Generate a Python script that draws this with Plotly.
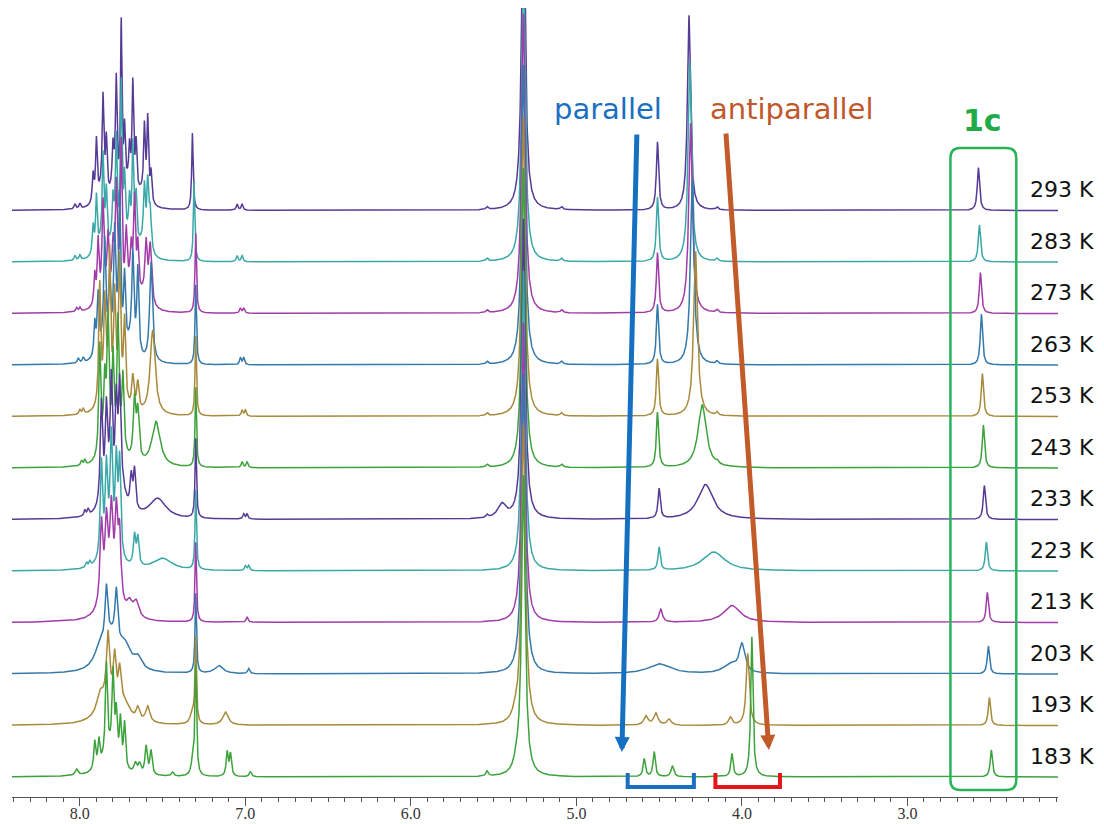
import numpy as np
import plotly.graph_objects as go

# ---------------- data ----------------
TEMPS = ["293 K", "283 K", "273 K", "263 K", "253 K", "243 K",
         "233 K", "223 K", "213 K", "203 K", "193 K", "183 K"]
COLORS = ["#553a96", "#3aa8a8", "#a23ca8", "#3479aa", "#a88a3c", "#3ca23c",
          "#553a96", "#3aa8a8", "#a23ca8", "#3479aa", "#a88a3c", "#3ca23c"]

# peak lists: (ppm, height, half-width ppm)
T293 = [(8.03,5,.006),(8.00,5,.006),(7.92,28,.006),(7.90,60,.006),(7.86,95,.006),(7.84,55,.006),
        (7.80,40,.006),(7.78,108,.006),(7.75,168,.005),(7.73,60,.006),(7.70,38,.006),(7.68,110,.006),
        (7.66,50,.006),(7.61,70,.006),(7.59,82,.006),(7.57,30,.006),(7.87,14,.03),(7.79,16,.03),
        (7.71,16,.03),(7.63,12,.03),(7.32,77,.005),(7.05,6,.006),(7.02,6,.006),(5.54,3,.008),
        (5.32,330,.013),(5.09,3,.008),(4.51,68,.008),(4.32,195,.011),(4.15,3,.008),(2.571,43,.008)]
T283 = [(8.03,5,.006),(8.00,5,.006),(7.92,28,.006),(7.90,55,.006),(7.86,88,.006),(7.84,55,.006),
        (7.80,40,.006),(7.78,100,.006),(7.75,160,.006),(7.73,60,.006),(7.70,38,.006),(7.68,100,.006),
        (7.66,50,.006),(7.61,60,.007),(7.59,65,.007),(7.575,40,.008),(7.87,14,.03),(7.79,16,.03),
        (7.71,16,.03),(7.63,12,.03),(7.31,80,.005),(7.05,6,.006),(7.02,6,.006),(5.54,3,.008),
        (5.32,300,.013),(5.09,3,.008),(4.51,64,.008),(4.315,200,.012),(4.15,3,.008),(2.565,37,.008)]
T273 = [(8.02,4,.006),(8.00,4,.006),(7.91,30,.006),(7.89,60,.006),(7.86,90,.007),(7.83,60,.007),
        (7.80,45,.007),(7.78,100,.007),(7.75,150,.006),(7.72,60,.007),(7.69,40,.007),(7.67,95,.007),
        (7.65,50,.007),(7.60,55,.008),(7.575,60,.01),(7.86,15,.03),(7.78,18,.03),(7.70,16,.03),
        (7.62,12,.03),(7.30,80,.005),(7.03,5,.006),(7.01,5,.006),(5.54,3,.008),(5.32,300,.013),
        (5.09,3,.008),(4.51,60,.008),(4.31,190,.013),(4.15,3,.008),(2.559,41,.008)]
T263 = [(8.01,5,.006),(7.98,5,.006),(7.91,33,.006),(7.89,60,.007),(7.85,100,.007),(7.82,65,.007),
        (7.79,110,.007),(7.76,140,.007),(7.73,70,.007),(7.68,90,.007),(7.65,85,.007),(7.57,100,.01),
        (7.85,18,.03),(7.77,20,.03),(7.69,18,.03),(7.30,80,.005),(7.03,7,.006),(7.01,7,.006),
        (5.54,3,.008),(5.32,300,.013),(5.09,3,.008),(4.51,60,.008),(4.30,185,.013),(4.15,3,.008),
        (2.553,51,.008)]
T253 = [(8.00,5,.006),(7.98,5,.006),(7.88,120,.007),(7.85,90,.007),(7.82,140,.007),(7.79,100,.007),
        (7.76,130,.007),(7.73,80,.007),(7.84,20,.03),(7.76,20,.03),(7.68,33,.008),(7.65,28,.008),
        (7.56,85,.018),(7.30,80,.005),(7.02,6,.006),(7.00,6,.006),(5.54,3,.008),(5.32,300,.013),
        (5.09,3,.008),(4.51,57,.008),(4.28,165,.014),(4.15,3,.008),(2.547,43,.008)]
T243 = [(7.99,5,.006),(7.97,5,.006),(7.88,110,.007),(7.85,60,.007),(7.83,120,.007),(7.80,90,.007),
        (7.77,120,.007),(7.74,70,.007),(7.84,22,.03),(7.76,22,.03),(7.67,60,.009),(7.65,48,.009),
        (7.54,45,.03),(7.30,80,.005),(7.02,6,.006),(6.99,6,.006),(5.54,3,.008),(5.32,300,.013),
        (5.09,3,.008),(4.51,55,.008),(4.24,63,.03),(4.15,3,.008),(2.541,43,.008)]
T233 = [(7.97,6,.006),(7.95,6,.006),(7.87,100,.008),(7.84,80,.008),(7.81,110,.008),(7.78,90,.008),
        (7.76,100,.008),(7.83,25,.035),(7.75,25,.03),(7.69,32,.008),(7.67,40,.008),(7.53,20,.06),
        (7.30,80,.005),(7.01,5,.006),(6.99,5,.006),(5.54,3,.008),(5.45,14,.03),(5.32,300,.013),
        (4.50,30,.008),(4.22,35,.055),(2.535,34,.008)]
T223 = [(7.96,5,.006),(7.94,5,.006),(7.87,95,.008),(7.84,80,.008),(7.81,105,.008),(7.78,90,.008),
        (7.76,95,.008),(7.82,25,.04),(7.67,30,.008),(7.65,28,.008),(7.50,12,.07),(7.30,80,.005),
        (7.00,5,.006),(6.98,5,.006),(5.32,300,.013),(4.50,23,.008),(4.17,19,.08),(2.523,29,.008)]
T213 = [(7.87,80,.01),(7.84,70,.01),(7.81,78,.01),(7.78,82,.01),(7.76,68,.01),(7.82,30,.05),
        (7.70,13,.02),(7.66,16,.02),(7.30,80,.005),(6.99,5,.007),(5.32,300,.013),(4.49,13,.012),
        (4.06,17,.06),(2.517,30,.008)]
T203 = [(7.84,55,.01),(7.78,52,.01),(7.88,18,.04),(7.81,30,.05),(7.73,22,.04),(7.65,12,.03),
        (7.30,80,.005),(7.16,8,.03),(6.98,5,.007),(5.32,300,.014),(4.50,10,.08),(4.00,28,.02),
        (4.07,9,.05),(2.511,28,.008)]
T193 = [(7.83,60,.01),(7.79,45,.01),(7.76,35,.01),(7.88,15,.02),(7.83,28,.06),(7.73,15,.04),
        (7.65,12,.012),(7.59,16,.015),(7.30,85,.005),(7.32,12,.015),(7.12,13,.02),(5.37,7,.02),
        (5.32,300,.014),(4.58,9,.015),(4.52,12,.015),(4.44,6,.015),(4.07,8,.012),(3.965,72,.011),
        (2.505,28,.008)]
T183 = [(8.02,6,.01),(7.91,28,.007),(7.885,26,.007),(7.84,90,.007),(7.80,80,.007),(7.78,45,.007),
        (7.755,45,.007),(7.73,45,.007),(7.82,25,.05),(7.665,10,.01),(7.64,10,.01),(7.60,28,.008),
        (7.57,24,.008),(7.44,4,.008),(7.30,110,.006),(7.32,12,.01),(7.11,24,.007),(7.09,22,.007),
        (6.97,5,.008),(5.54,5,.008),(5.36,10,.02),(5.32,300,.013),(4.59,18,.008),(4.53,25,.008),
        (4.42,11,.01),(4.06,23,.008),(3.94,140,.008),(2.493,27,.008)]
PEAK_LISTS = [T293, T283, T273, T263, T253, T243, T233, T223, T213, T203, T193, T183]

TICK_VALS = [8.0, 7.0, 6.0, 5.0, 4.0, 3.0]
PARALLEL_RANGE = (4.69, 4.29)
ANTIPARALLEL_RANGE = (4.16, 3.77)
BOX_RANGE = (2.74, 2.342)

# ---------------- layout constants ----------------
# page body has an 8px default margin, so the figure is 8px smaller than the window
FIG_W, FIG_H = 1096, 816
X_RANGE = [8.41, 2.09]
BASE0 = 20.0       # baseline of the lowest spectrum (plot units = px above axis)
STEP = 51.5        # vertical offset between spectra
PLOT_H = 789

x = np.linspace(X_RANGE[0], X_RANGE[1], 9000)
n = len(TEMPS)

fig = go.Figure()
for i, (name, col, peaks) in enumerate(zip(TEMPS, COLORS, PEAK_LISTS)):
    base = BASE0 + STEP * (n - 1 - i)
    y = np.full_like(x, base)
    for c, h, w in peaks:
        y += h * w * w / ((x - c) ** 2 + w * w)
    fig.add_trace(go.Scatter(x=x, y=y, mode="lines", name=name,
                             line=dict(color=col, width=1.5), hoverinfo="skip"))

annotations = []
for i, name in enumerate(TEMPS):
    base = BASE0 + STEP * (n - 1 - i)
    annotations.append(dict(x=2.27, y=base + 21, xref="x", yref="y", text=name,
                            showarrow=False, xanchor="left", yanchor="middle",
                            font=dict(family="DejaVu Sans", size=22, color="#111")))

annotations += [
    dict(x=4.81, y=688, xref="x", yref="y", text="parallel", showarrow=False,
         font=dict(family="DejaVu Sans", size=29, color="#1a6fc0")),
    dict(x=3.70, y=688, xref="x", yref="y", text="antiparallel", showarrow=False,
         font=dict(family="DejaVu Sans", size=29, color="#c0582a")),
    dict(x=2.547, y=677, xref="x", yref="y", text="<b>1c</b>", showarrow=False,
         font=dict(family="DejaVu Sans", size=30, color="#22aa48")),
    dict(x=4.725, y=45, xref="x", yref="y", ax=15, ay=-619, text="", showarrow=True,
         arrowhead=2, arrowwidth=5, arrowsize=0.6, arrowcolor="#1570c1"),
    dict(x=3.837, y=47, xref="x", yref="y", ax=-43, ay=-618, text="", showarrow=True,
         arrowhead=2, arrowwidth=5, arrowsize=0.6, arrowcolor="#c35a2a"),
]

def bracket(r, color):
    a, b = r
    return dict(type="path", xref="x", yref="y",
                path=f"M {a},24 L {a},10 L {b},10 L {b},24",
                line=dict(color=color, width=4))

x0, x1 = BOX_RANGE
y0, y1 = 7, 649
rx, ry = 0.06, 10
box_path = (f"M {x0-rx},{y1} L {x1+rx},{y1} Q {x1},{y1} {x1},{y1-ry} "
            f"L {x1},{y0+ry} Q {x1},{y0} {x1+rx},{y0} L {x0-rx},{y0} "
            f"Q {x0},{y0} {x0},{y0+ry} L {x0},{y1-ry} Q {x0},{y1} {x0-rx},{y1} Z")

shapes = [bracket(PARALLEL_RANGE, "#1a6fc0"), bracket(ANTIPARALLEL_RANGE, "#e8141b"),
          dict(type="path", xref="x", yref="y", path=box_path,
               line=dict(color="#2bb35b", width=2.5))]

fig.update_layout(
    width=FIG_W, height=FIG_H,
    margin=dict(l=4, r=46, t=0, b=27),
    paper_bgcolor="white", plot_bgcolor="white",
    showlegend=False,
    annotations=annotations, shapes=shapes,
    xaxis=dict(range=X_RANGE, showgrid=False, zeroline=False,
               showline=True, linecolor="#555", linewidth=1,
               ticks="outside", ticklen=8, tickcolor="#555",
               tickvals=TICK_VALS, ticktext=[f"{v:.1f}" for v in TICK_VALS],
               tickfont=dict(family="Liberation Serif", size=16, color="#333"),
               ticklabelstandoff=-6,
               minor=dict(tickmode="linear", tick0=0, dtick=0.1, ticks="outside",
                          ticklen=4, tickcolor="#555"),
               automargin=False),
    yaxis=dict(range=[0, PLOT_H], visible=False, fixedrange=True),
)

fig.write_html("out.html")
